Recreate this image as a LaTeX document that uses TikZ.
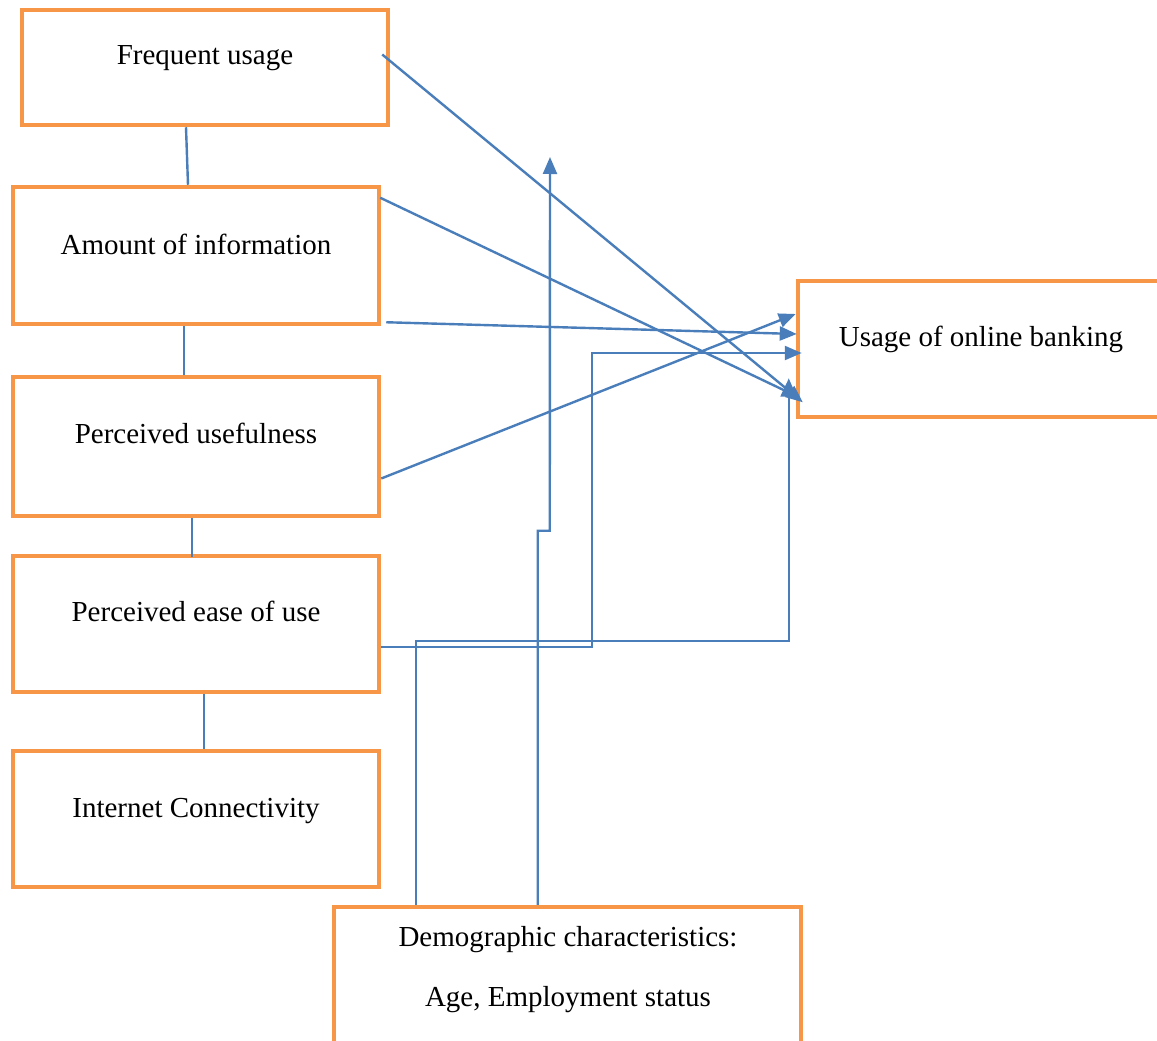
\documentclass[tikz,border=0pt]{standalone}
\usepackage{fontspec}
\setmainfont{Liberation Serif}
\usetikzlibrary{arrows.meta,calc}
\definecolor{boxorange}{RGB}{247,150,70}
\definecolor{linkblue}{RGB}{74,126,187}
\begin{document}
\begin{tikzpicture}[x=1pt,y=-1pt,
  box/.style={draw=boxorange,line width=4.5pt,rectangle,inner sep=0pt},
  txt/.style={anchor=base,inner sep=0pt,font=\fontsize{29}{35}\selectfont},
  link/.style={draw=linkblue,line width=2.4pt},
  arr/.style={link,-{Triangle[length=17pt,width=14pt]}}]
\useasboundingbox (0,0) rectangle (1157,1041);
\clip (0,0) rectangle (1157,1041);
\fill[white] (0,0) rectangle (1157,1041);

% boxes
\node[box,minimum width=366pt,minimum height=115pt] (freq)   at (205,67.5) {};
\node[box,minimum width=366pt,minimum height=137pt] (amount) at (196,255.5) {};
\node[box,minimum width=366pt,minimum height=139pt] (useful) at (196,446.5) {};
\node[box,minimum width=366pt,minimum height=136pt] (ease)   at (196,624) {};
\node[box,minimum width=366pt,minimum height=136pt] (inet)   at (196,819) {};
\node[box,minimum width=402pt,minimum height=136pt] (usage)  at (999,349) {};
\node[box,minimum width=467pt,minimum height=173pt] (demo)   at (567.5,993.5) {};

% box texts
\node[txt] (tfreq)   at (205,65)  {Frequent usage};
\node[txt] (tamount) at (196,254) {Amount of information};
\node[txt] (tuseful) at (196,443) {Perceived usefulness};
\node[txt] (tease)   at (196,621) {Perceived ease of use};
\node[txt] (tinet)   at (196,817) {Internet Connectivity};
\node[txt] (tusage)  at (981,346) {Usage of online banking};
\node[txt] (tdemoa)  at (568,946) {Demographic characteristics:};
\node[txt] (tdemob)  at (568,1006) {Age, Employment status};

% plain links between the stacked boxes
\draw[link] ($(freq.south)+(-19,0)$) -- ($(amount.north)+(-8,0)$);
\draw[link] ($(amount.south)+(-12,0)$) -- ($(useful.north)+(-12,0)$);
\draw[link] ($(useful.south)+(-4,0)$) -- ($(ease.north)+(-4,3)$);
\draw[link] ($(ease.south)+(8,0)$) -- ($(inet.north)+(8,0)$);

% arrows into the outcome box
\draw[arr] ($(freq.east)+(-8,-13)$) -- ($(usage.south west)+(7,-17)$);
\draw[arr] ($(amount.north east)+(-1,13)$) -- ($(usage.south west)+(3,-22)$);
\draw[arr] ($(amount.south east)+(5,-4)$) -- ($(usage.west)+(1,-15)$);
\draw[arr] ($(useful.east)+(0,32)$) -- ($(usage.west)+(0,-35)$);
\coordinate (es) at ($(ease.east)+(0,23)$);
\draw[arr] (es) -- ($(es)+(211,0)$) |- ($(usage.west)+(6,4)$);

% demographic links
\coordinate (ds1) at ($(demo.north west)+(84,0)$);
\draw[arr] (ds1) -- ($(ds1)+(0,-264)$) -| ($(usage.south west)+(-7,-41)$);
\coordinate (ds2) at ($(demo.north west)+(206,0)$);
\coordinate (demotop) at (550,157);
\draw[arr] (ds2) -- ($(ds2)+(0,-374)$) -- ($(ds2)+(12,-374)$) -- (demotop);
\end{tikzpicture}
\end{document}
